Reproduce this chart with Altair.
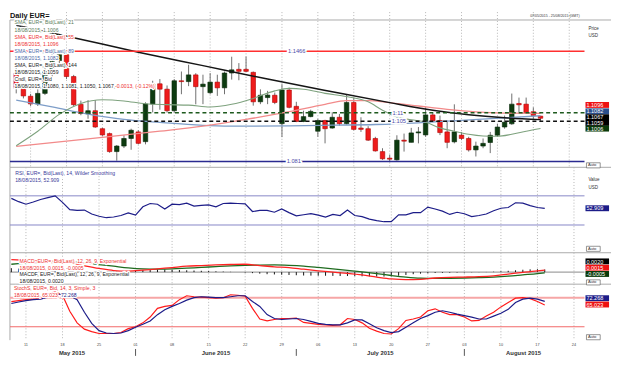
import altair as alt
import pandas as pd

# ---------------- values ----------------
opens = [1.1335, 1.1245, 1.1198, 1.1152, 1.1215, 1.1345, 1.1410, 1.1445, 1.1315, 1.1150,
         1.1093, 1.1112, 1.1005, 1.0976, 1.0869, 1.0902, 1.0947, 1.0986, 1.0928, 1.1152,
         1.1272, 1.1240, 1.1112, 1.1290, 1.1285, 1.1325, 1.1255, 1.1219, 1.1282, 1.1248,
         1.1336, 1.1358, 1.1358, 1.1340, 1.1165, 1.1190, 1.1204, 1.1035, 1.1235, 1.1138,
         1.1048, 1.1077, 1.0990, 1.1054, 1.1009, 1.1073, 1.1035, 1.1161, 1.1009, 1.1005,
         1.0947, 1.0869, 1.0830, 1.0820, 1.0937, 1.0924, 1.0980, 1.0968, 1.1087, 1.1054,
         1.0986, 1.0927, 1.0967, 1.0947, 1.0879, 1.0902, 1.0923, 1.0966, 1.1015, 1.1034,
         1.1155, 1.1151, 1.1106, 1.1080]
highs = [1.1390, 1.1262, 1.1212, 1.1240, 1.1375, 1.1467, 1.1450, 1.1455, 1.1325, 1.1172,
         1.1175, 1.1175, 1.1010, 1.0982, 1.0908, 1.0966, 1.1005, 1.0996, 1.1162, 1.1290,
         1.1300, 1.1262, 1.1300, 1.1345, 1.1385, 1.1335, 1.1326, 1.1336, 1.1326, 1.1345,
         1.1433, 1.1395, 1.1434, 1.1345, 1.1239, 1.1230, 1.1220, 1.1270, 1.1249, 1.1165,
         1.1112, 1.1118, 1.1064, 1.1058, 1.1103, 1.1093, 1.1210, 1.1190, 1.1073, 1.1020,
         1.0957, 1.0889, 1.0850, 1.0966, 1.0976, 1.1010, 1.1015, 1.1132, 1.1099, 1.1083,
         1.1054, 1.1150, 1.0986, 1.0957, 1.0928, 1.0947, 1.0986, 1.1035, 1.1083, 1.1214,
         1.1190, 1.1190, 1.1132, 1.1081]
lows = [1.1215, 1.1185, 1.1140, 1.1140, 1.1205, 1.1315, 1.1370, 1.1300, 1.1138, 1.1085,
        1.1064, 1.1010, 1.0962, 1.0862, 1.0815, 1.0890, 1.0880, 1.0912, 1.0912, 1.1102,
        1.1118, 1.1100, 1.1100, 1.1210, 1.1258, 1.1150, 1.1151, 1.1210, 1.1200, 1.1210,
        1.1297, 1.1293, 1.1340, 1.1142, 1.1151, 1.1151, 1.1151, 1.0955, 1.1126, 1.1044,
        1.1044, 1.1073, 1.0957, 1.0918, 1.1005, 1.1023, 1.1029, 1.0996, 1.0986, 1.0932,
        1.0869, 1.0820, 1.0809, 1.0815, 1.0869, 1.0924, 1.0918, 1.0957, 1.1044, 1.0967,
        1.0889, 1.0918, 1.0937, 1.0869, 1.0840, 1.0889, 1.0860, 1.0957, 1.1005, 1.1028,
        1.1103, 1.1093, 1.1064, 1.1050]
closes = [1.1245, 1.1200, 1.1152, 1.1215, 1.1345, 1.1410, 1.1445, 1.1315, 1.1148, 1.1095,
          1.1112, 1.1015, 1.0968, 1.0869, 1.0902, 1.0947, 1.0996, 1.0918, 1.1152, 1.1270,
          1.1240, 1.1112, 1.1290, 1.1285, 1.1325, 1.1255, 1.1270, 1.1282, 1.1248, 1.1336,
          1.1355, 1.1346, 1.1346, 1.1165, 1.1204, 1.1205, 1.1161, 1.1235, 1.1132, 1.1048,
          1.1077, 1.1108, 1.1054, 1.1005, 1.1073, 1.1035, 1.1161, 1.1001, 1.1001, 1.0937,
          1.0873, 1.0826, 1.0824, 1.0937, 1.0931, 1.0980, 1.0986, 1.1087, 1.1052, 1.0982,
          1.0924, 1.0986, 1.0947, 1.0879, 1.0902, 1.0918, 1.0966, 1.1015, 1.1044, 1.1151,
          1.1147, 1.1099, 1.1083, 1.1067]

sma21_idx = [0, 3, 6, 9, 12, 15, 18, 21, 24, 27, 30, 33, 36, 38, 40, 43, 46, 49, 51, 53,
             55, 57, 59, 61, 63, 65, 67, 69, 71, 73]
sma21_val = [1.0904, 1.0990, 1.1090, 1.1155, 1.1177, 1.1170, 1.1153, 1.1148, 1.1145, 1.1134,
             1.1150, 1.1185, 1.1230, 1.1245, 1.1240, 1.1215, 1.1196, 1.1165, 1.1115, 1.1075,
             1.1058, 1.1044, 1.1010, 1.0990, 1.0972, 1.0962, 1.0960, 1.0972, 1.0990, 1.1006]
sma55_idx = [0, 10, 20, 26, 32, 38, 43, 46, 49, 52, 56, 60, 64, 68, 73]
sma55_val = [1.0900, 1.0945, 1.0990, 1.1020, 1.1060, 1.1106, 1.1150, 1.1172, 1.1172, 1.1160,
             1.1140, 1.1120, 1.1105, 1.1098, 1.1096]
sma89_idx = [0, 5, 10, 15, 20, 26, 32, 38, 44, 50, 56, 62, 68, 73]
sma89_val = [1.1175, 1.1135, 1.1092, 1.1060, 1.1042, 1.1025, 1.1020, 1.1022, 1.1026, 1.1030,
             1.1040, 1.1055, 1.1070, 1.1082]
sma144_idx = [0, 8, 17, 26, 35, 44, 52, 58, 63, 68, 73]
sma144_val = [1.1620, 1.1546, 1.1460, 1.1380, 1.1300, 1.1225, 1.1160, 1.1115, 1.1088, 1.1070,
              1.1059]

levels = [1.1466, 1.11, 1.105, 1.081]
level_labels = ["1.1466", "1.11", "1.105", "1.081"]

rsi = [66.5, 62, 58.5, 61.5, 65, 67.5, 70, 61, 51, 50,
       50.5, 45, 42, 40, 41, 43, 46.5, 43.5, 55, 59.5,
       58.5, 52, 58.5, 58, 60, 56, 57, 57.5, 55, 59.5,
       60, 59.5, 59, 48.5, 50, 50, 47.5, 52, 47, 42.5,
       44, 45.5, 43.5, 40.8, 44.5, 43, 50.5, 43, 41.5, 38,
       36, 34.5, 34.5, 44, 44, 47, 47, 54.5, 52, 49,
       44.5, 47.5, 45.5, 41.5, 43, 45, 49.5, 53, 54, 60.5,
       60, 56.5, 54, 52.909]

macd_idx = [0, 3, 6, 8, 10, 12, 14, 16, 18, 20, 22, 24, 26, 28, 30, 32, 34, 36, 38, 40,
            42, 44, 46, 48, 50, 52, 54, 56, 58, 60, 62, 64, 66, 68, 70, 72, 73]
macd_val = [0.0095, 0.0088, 0.0082, 0.0070, 0.0048, 0.0028, 0.0012, 0.0008, 0.0015, 0.0025,
            0.0035, 0.0045, 0.0050, 0.0055, 0.0058, 0.0060, 0.0050, 0.0040, 0.0035, 0.0022,
            0.0010, 0.0000, -0.0010, -0.0022, -0.0038, -0.0052, -0.0058, -0.0055, -0.0045, -0.0040,
            -0.0038, -0.0035, -0.0028, -0.0015, -0.0002, 0.0010, 0.0015]
signal_val = [0.0060, 0.0070, 0.0076, 0.0077, 0.0070, 0.0058, 0.0045, 0.0032, 0.0024, 0.0022,
              0.0024, 0.0030, 0.0036, 0.0042, 0.0048, 0.0052, 0.0054, 0.0055, 0.0052, 0.0046,
              0.0036, 0.0025, 0.0013, 0.0001, -0.0012, -0.0026, -0.0038, -0.0046, -0.0048, -0.0047,
              -0.0045, -0.0042, -0.0038, -0.0031, -0.0021, -0.0011, -0.0005]
hist = [0.0030, 0.0026, 0.0022, 0.0018, 0.0014, 0.0010, 0.0006, 0.0002, -0.0004, -0.0008,
        -0.0010, -0.0008, -0.0006, -0.0004, -0.0002, 0.0002, 0.0006, 0.0012, 0.0016, 0.0018,
        0.0020, 0.0020, 0.0018, 0.0016, 0.0014, 0.0012, 0.0010, 0.0008, 0.0006, 0.0004,
        0.0002, 0.0000, -0.0004, -0.0008, -0.0012, -0.0016, -0.0018, -0.0020, -0.0022, -0.0024,
        -0.0026, -0.0027, -0.0028, -0.0028, -0.0029, -0.0030, -0.0030, -0.0031, -0.0032, -0.0033,
        -0.0034, -0.0034, -0.0032, -0.0028, -0.0022, -0.0016, -0.0012, -0.0009, -0.0007, -0.0006,
        -0.0005, -0.0004, -0.0003, -0.0002, -0.0001, 0.0001, 0.0003, 0.0006, 0.0010, 0.0014,
        0.0018, 0.0021, 0.0022, 0.0020]

stoch_k = [72, 74, 76, 77, 79, 88, 92, 85, 52, 28,
           15, 10, 6, 6, 6, 8, 16, 20, 28, 40,
           58, 62, 64, 76, 84, 82, 81, 80, 79, 80,
           86, 85, 83, 58, 36, 32, 35, 37, 37, 38,
           29, 27, 25, 24, 23, 24, 37, 35, 28, 17,
           11, 6, 5, 16, 33, 36, 40, 53, 57, 50,
           45, 45, 40, 32, 33, 42, 50, 61, 70, 79,
           80, 78, 72, 65.023]
stoch_d = [68, 71, 74, 76, 77, 81, 86, 88, 84, 76,
           50, 27, 12, 7, 6, 7, 12, 19, 25, 32,
           45, 55, 62, 68, 75, 80, 82, 81, 80, 80,
           82, 84, 84, 72, 62, 45, 37, 35, 36, 37,
           35, 31, 27, 25, 24, 24, 28, 34, 34, 26,
           18, 12, 8, 10, 19, 28, 37, 43, 50, 53,
           50, 46, 43, 40, 36, 36, 42, 48, 56, 70,
           77, 79, 77, 72.268]

mondays = [2, 7, 12, 17, 22, 27, 32, 37, 42, 47, 52, 57, 62, 67, 72, 77]
day_labels = ["11", "18", "25", "01", "08", "15", "22", "29", "06", "13", "20", "27",
              "03", "10", "17", "24"]
month_names = ["May 2015", "June 2015", "July 2015", "August 2015"]
month_centers = [8.3, 28.0, 50.5, 70.1]
month_starts = [17, 39, 62]

# ---------------- layout / styles ----------------
N = len(closes)
W = 585
H_P, H_R, H_M, H_S = 158, 87, 32, 57
XS = alt.Scale(domain=[-0.188, 78.44], nice=False, zero=False)
PS = alt.Scale(domain=[1.07756, 1.16980], nice=False, zero=False)
RS = alt.Scale(domain=[-8.09, 109.16], nice=False, zero=False)
MS = alt.Scale(domain=[-0.009225, 0.014775], nice=False, zero=False)
SS = alt.Scale(domain=[-7.71, 107.91], nice=False, zero=False)
GRID = "#b5b5b5"
SEP = "#a9a9a9"
RED = "#ee1c1c"
DKGREEN = "#0d3b10"
NAVY = "#1c1c88"
ONE = pd.DataFrame({"k": [0]})
LEG = 5.2

AX = dict(orient="right", grid=True, gridDash=[1, 2], gridColor=GRID, tickSize=3,
          tickColor="#888", domainColor="#999", labelFontSize=4.8, labelColor="#333",
          labelPadding=1, title=None, labelOverlap=False)
AXP = alt.Axis(values=[1.08, 1.09, 1.10, 1.11, 1.12, 1.13, 1.14, 1.15],
               labelExpr="(datum.value > 1.095 && datum.value < 1.115) || datum.value < 1.085 ? '' : format(datum.value, '.2f')",
               **AX)
AXR = alt.Axis(values=[0, 20, 40, 60, 80],
               labelExpr="datum.value >= 20 && datum.value <= 60 ? datum.value : ''", **AX)
AXS = alt.Axis(values=[0, 30, 60, 90],
               labelExpr="datum.value == 30 || datum.value == 60 ? datum.value : ''", **AX)
AXM = alt.Axis(orient="right", values=[0], labels=False, ticks=False, grid=False,
               domainColor="#999", title=None)


def xq(field="i"):
    return alt.X(f"{field}:Q", scale=XS, axis=None)


def vgrid():
    return alt.Chart(pd.DataFrame({"i": mondays})).mark_rule(
        color=GRID, strokeDash=[1, 2], strokeWidth=1).encode(x=xq())


def text(s, x, y, color="#222", size=LEG, align="left", weight="normal", halo=False,
         baseline="middle"):
    out = []
    if halo:
        out.append(alt.Chart(ONE).mark_text(
            text=s, fontSize=size, align=align, baseline=baseline, fontWeight=weight,
            color="white", stroke="white", strokeWidth=2.4, strokeJoin="round"
        ).encode(x=alt.value(x), y=alt.value(y)))
    out.append(alt.Chart(ONE).mark_text(
        text=s, fontSize=size, align=align, baseline=baseline, fontWeight=weight, color=color
    ).encode(x=alt.value(x), y=alt.value(y)))
    return out


def vbox(s, y, fill, h=6.0):
    r = alt.Chart(ONE).mark_rect(color=fill).encode(
        x=alt.value(W + 1), x2=alt.value(W + 25), y=alt.value(y - h / 2), y2=alt.value(y + h / 2))
    t = alt.Chart(ONE).mark_text(text=s, color="white", fontSize=5.6, align="left",
                                 baseline="middle").encode(x=alt.value(W + 2), y=alt.value(y + 0.2))
    return [r, t]


def autobox(y):
    r = alt.Chart(ONE).mark_rect(fill="white", stroke="#666", strokeWidth=0.7).encode(
        x=alt.value(W + 2), x2=alt.value(W + 16), y=alt.value(y - 2.6), y2=alt.value(y + 2.6))
    t = alt.Chart(ONE).mark_text(text="Auto", color="#333", fontSize=4.2, align="left",
                                 baseline="middle").encode(x=alt.value(W + 3.5), y=alt.value(y))
    return [r, t]


def hsep(y, x1=0, x2=W + 27):
    return alt.Chart(ONE).mark_rule(color=SEP, strokeWidth=1).encode(
        x=alt.value(x1), x2=alt.value(x2), y=alt.value(y))


def vsep(y1, y2):
    return alt.Chart(ONE).mark_rule(color=SEP, strokeWidth=1).encode(
        x=alt.value(0), y=alt.value(y1), y2=alt.value(y2))


# ---------------- price panel ----------------
cdf = pd.DataFrame({"i": list(range(N)), "o": opens, "h": highs, "l": lows, "c": closes})
cdf["dir"] = ["up" if c >= o else "down" for o, c in zip(opens, closes)]

P = [vgrid(), hsep(8), vsep(8, H_P), hsep(H_P)]
P.append(alt.Chart(cdf).mark_rule(color="#6e6e6e", strokeWidth=1).encode(
    x=xq(), y=alt.Y("l:Q", scale=PS, axis=AXP), y2="h:Q"))
P.append(alt.Chart(cdf).mark_bar(size=4.6, strokeWidth=0.6).encode(
    x=xq(), y=alt.Y("o:Q", scale=PS, axis=None), y2="c:Q",
    color=alt.Color("dir:N", scale=alt.Scale(domain=["up", "down"], range=[DKGREEN, RED]), legend=None),
    stroke=alt.Stroke("dir:N", scale=alt.Scale(domain=["up", "down"], range=["#062806", "#b00000"]), legend=None)))

for idx, vals, col, sw in [(sma89_idx, sma89_val, "#7d9dc8", 1.3),
                           (sma55_idx, sma55_val, "#f28a8a", 1.3),
                           (sma21_idx, sma21_val, "#7ea27e", 1.1),
                           (sma144_idx, sma144_val, "#151515", 1.5)]:
    P.append(alt.Chart(pd.DataFrame({"i": idx, "v": vals})).mark_line(
        color=col, strokeWidth=sw, interpolate="monotone").encode(
        x=xq(), y=alt.Y("v:Q", scale=PS, axis=None)))

level_styles = [("#ff3030", None, 1.5), ("#1e5a1e", [4, 3], 1.6), ("#111111", [4, 3], 1.5),
                ("#2a2a90", None, 1.5)]
for lv, (col, dash, sw) in zip(levels, level_styles):
    kw = dict(color=col, strokeWidth=sw)
    if dash:
        kw["strokeDash"] = dash
    P.append(alt.Chart(pd.DataFrame({"lv": [lv]})).mark_rule(**kw).encode(
        y=alt.Y("lv:Q", scale=PS, axis=None)))

level_label_x = [292, 395, 396, 289]
for lv, lab, px in zip(levels, level_labels, level_label_x):
    d = pd.DataFrame({"lv": [lv]})
    P.append(alt.Chart(d).mark_text(text=lab, fontSize=5.8, align="center", baseline="middle",
                                    color="white", stroke="white", strokeWidth=3).encode(
        x=alt.value(px), y=alt.Y("lv:Q", scale=PS, axis=None)))
    P.append(alt.Chart(d).mark_text(text=lab, fontSize=5.8, align="center", baseline="middle",
                                    color="#4b4ba8").encode(
        x=alt.value(px), y=alt.Y("lv:Q", scale=PS, axis=None)))

leg_rows = [10.5, 18.2, 25.5, 32.5, 39.2, 46.5, 54.2, 61.5, 68.2, 74.9]
leg_txt = [("SMA, EUR=, Bid(Last),  21", "#587a58"), ("18/08/2015, 1.1006", "#587a58"),
           ("SMA, EUR=, Bid(Last),  55", "#ee3030"), ("18/08/2015, 1.1096", "#ee3030"),
           ("SMA, EUR=, Bid(Last),  89", "#4a68a8"), ("18/08/2015, 1.1082", "#4a68a8"),
           ("SMA, EUR=, Bid(Last),  144", "#222222"), ("18/08/2015, 1.1059", "#222222"),
           ("Cndl, EUR=, Bid", "#222222"),
           ("18/08/2015, 1.1080, 1.1081, 1.1050, 1.1067,", "#222222")]
for (s, col), yy in zip(leg_txt, leg_rows):
    P += text(s, 4.7, yy, color=col, halo=True)
P += text("-0.0013, (-0.12%)", 107, leg_rows[-1], color="#ee3030", halo=True)

P += text("Daily EUR=", 0, 6.4, color="#111", size=7.5, weight="bold", baseline="alphabetic")
P += text("07/05/2015 - 25/08/2015 (GMT)", 580, 3.6, color="#333", size=3.6, align="right")
P += text("Price", W + 4, 17, color="#333", size=4.6)
P += text("USD", W + 4, 24, color="#333", size=4.6)
P += autobox(156)
for s, yy, col in [("1.1096", 94.5, "#ee1111"), ("1.1082", 101, "#2c4f8c"),
                   ("1.1067", 107, "#000000"), ("1.1059", 112.8, "#000000"),
                   ("1.1006", 118.6, "#0a3a0a")]:
    P += vbox(s, yy, col)

price = alt.layer(*P).properties(width=W, height=H_P)

# ---------------- RSI panel ----------------
R = [vgrid(), vsep(0, H_R), hsep(H_R)]
R.append(alt.Chart(pd.DataFrame({"lv": [70, 30]})).mark_rule(color="#8686c6", strokeWidth=1).encode(
    y=alt.Y("lv:Q", scale=RS, axis=AXR)))
R.append(alt.Chart(pd.DataFrame({"i": list(range(N)), "v": rsi})).mark_line(
    color=NAVY, strokeWidth=1.2).encode(x=xq(), y=alt.Y("v:Q", scale=RS, axis=None)))
R += text("RSI, EUR=, Bid(Last),  14, Wilder Smoothing", 5.4, 5.7, color="#3a3a9a", halo=True)
R += text("18/08/2015, 52.909", 5.4, 13.3, color="#3a3a9a", halo=True)
R += text("Value", W + 4, 13, color="#333", size=4.6)
R += text("USD", W + 4, 20.7, color="#333", size=4.6)
R += autobox(83)
R += vbox("52.909", 41.7, NAVY)
rsi_chart = alt.layer(*R).properties(width=W, height=H_R)

# ---------------- MACD panel ----------------
hdf = pd.DataFrame({"i": list(range(N)), "z": [0] * N, "v": hist})
M = [vgrid(), vsep(0, H_M), hsep(H_M)]
M.append(alt.Chart(pd.DataFrame({"lv": [0]})).mark_rule(color="#888", strokeWidth=1).encode(
    y=alt.Y("lv:Q", scale=MS, axis=AXM)))
M.append(alt.Chart(hdf).mark_rule(color="#111", strokeWidth=1).encode(
    x=xq(), y=alt.Y("z:Q", scale=MS, axis=None), y2="v:Q"))
mdf = pd.DataFrame({"i": macd_idx, "m": macd_val, "s": signal_val})
M.append(alt.Chart(mdf).mark_line(color="#1f6b1f", strokeWidth=1.3, interpolate="monotone").encode(
    x=xq(), y=alt.Y("s:Q", scale=MS, axis=None)))
M.append(alt.Chart(mdf).mark_line(color="#ff2222", strokeWidth=1.3, interpolate="monotone").encode(
    x=xq(), y=alt.Y("m:Q", scale=MS, axis=None)))
M += text("MACD, EUR=, Bid(Last),  12, 26, 9, Exponential", 9.8, 8, color="#ee3030", halo=True)
M += text("18/08/2015, 0.0015, -0.0005", 9.8, 15.3, color="#ee3030", halo=True)
M += text("MACDF, EUR=, Bid(Last),  12, 26, 9, Exponential", 9.8, 22, color="#222", halo=True)
M += text("18/08/2015, 0.0020", 9.8, 28.7, color="#222", halo=True)
M += autobox(30.2)
M += vbox("0.0020", 8.8, "#000000")
M += vbox("0.0015", 15.2, "#ee1111")
M += vbox("-0.0005", 21.6, "#0a3a0a")
macd_chart = alt.layer(*M).properties(width=W, height=H_M)

# ---------------- Stochastic panel ----------------
sdf = pd.DataFrame({"i": list(range(N)), "k": stoch_k, "d": stoch_d})
S = [vgrid(), vsep(0, H_S)]
S.append(alt.Chart(pd.DataFrame({"lv": [80]})).mark_rule(color="#f6a6a6", strokeWidth=2).encode(
    y=alt.Y("lv:Q", scale=SS, axis=AXS)))
S.append(alt.Chart(pd.DataFrame({"lv": [20]})).mark_rule(color="#f26a6a", strokeWidth=1.1).encode(
    y=alt.Y("lv:Q", scale=SS, axis=None)))
S.append(alt.Chart(sdf).mark_line(color="#ff1a1a", strokeWidth=1.2).encode(
    x=alt.X("i:Q", scale=XS, axis=alt.Axis(values=list(range(79)), labels=False, tickSize=2.5,
                                          tickColor="#888", domainColor="#999", grid=False,
                                          title=None)),
    y=alt.Y("k:Q", scale=SS, axis=None)))
S.append(alt.Chart(sdf).mark_line(color=NAVY, strokeWidth=1.2).encode(
    x=xq(), y=alt.Y("d:Q", scale=SS, axis=None)))
S.append(alt.Chart(pd.DataFrame({"i": mondays, "t": day_labels})).mark_text(
    fontSize=3.9, color="#444", baseline="middle").encode(
    x=xq(), y=alt.value(H_S + 5), text="t:N"))
S.append(alt.Chart(pd.DataFrame({"i": month_centers, "t": month_names})).mark_text(
    fontSize=6, fontWeight="bold", color="#333", baseline="middle").encode(
    x=xq(), y=alt.value(H_S + 12.7), text="t:N"))
S.append(alt.Chart(pd.DataFrame({"i": month_starts})).mark_rule(color="#555", strokeWidth=1).encode(
    x=xq(), y=alt.value(H_S + 9), y2=alt.value(H_S + 16)))
S += text("StochS, EUR=, Bid, 14, 3, Simple, 3", 4, 4, color="#ee3030", halo=True)
S += text("18/08/2015, 65.023,", 4, 10.7, color="#ee3030", halo=True)
S += text("72.268", 52, 10.7, color=NAVY, halo=True)
S += autobox(54)
S += vbox("72.268", 14.3, NAVY)
S += vbox("65.023", 20.7, "#ee1111")
stoch_chart = alt.layer(*S).properties(width=W, height=H_S)

chart = alt.vconcat(price, rsi_chart, macd_chart, stoch_chart, spacing=0, bounds="flush",
                    padding=0).configure(font="Liberation Sans").configure_view(strokeWidth=0)

chart.save("out.html", embed_options={"renderer": "svg", "actions": False})
